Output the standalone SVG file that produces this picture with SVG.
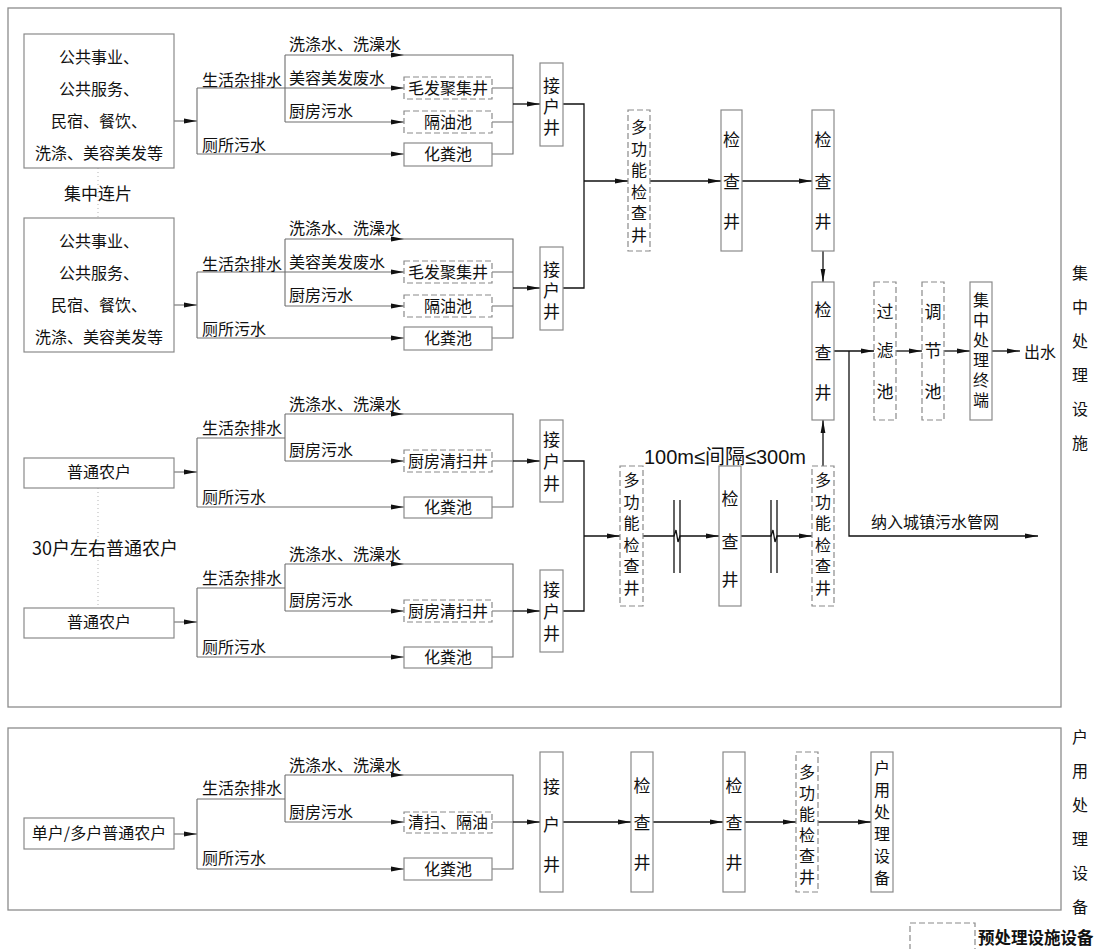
<svg xmlns="http://www.w3.org/2000/svg" width="1096" height="949" viewBox="0 0 1096 949">
<defs>
<marker id="ah" markerWidth="14" markerHeight="6" refX="13" refY="3" orient="auto" markerUnits="userSpaceOnUse"><path d="M0,0.6 L13,3 L0,5.4 z" fill="#111"/></marker>
<style>
.frame{fill:none;stroke:#8c8c8c;stroke-width:1.3}
.box{fill:#fff;stroke:#8a8a8a;stroke-width:1.2}
.dbox{fill:#fff;stroke:#8a8a8a;stroke-width:1.2;stroke-dasharray:6 3}
.ln{fill:none;stroke:#6e6e6e;stroke-width:1.1}
.fl{fill:none;stroke:#111;stroke-width:1.3}
.dot{fill:none;stroke:#b5b5b5;stroke-width:1;stroke-dasharray:1 3}
.t{font-family:"Noto Sans CJK SC","Noto Sans CJK TC",sans-serif;font-size:16px;fill:#111}
.v{font-size:17px}
.c{text-anchor:middle}
.vt{writing-mode:vertical-rl;text-anchor:start}
.lat{font-family:"Liberation Sans","Noto Sans CJK SC",sans-serif;font-size:20px;fill:#111}
</style>
</defs>
<rect class="frame" x="8" y="8" width="1053" height="699"/>
<rect class="frame" x="8" y="728" width="1053" height="182"/>
<g id="connectors">
<path class="dot" d="M98 168 V218 M98 488 V608"/>
<path class="ln" d="M174 121 H197" marker-end="url(#ah)"/>
<path class="ln" d="M197 88 V154 M285 55 V122"/>
<path class="ln" d="M197 88 H404" marker-end="url(#ah)"/>
<path class="ln" d="M285 55 H404" marker-end="url(#ah)"/>
<path class="ln" d="M285 122 H404" marker-end="url(#ah)"/>
<path class="ln" d="M197 154 H404" marker-end="url(#ah)"/>
<path class="ln" d="M404 55 H513 V154 H492 M492 88 H513 M492 122 H513"/>
<path class="fl" d="M513 104 H540" marker-end="url(#ah)"/>
<path class="ln" d="M174 305 H197" marker-end="url(#ah)"/>
<path class="ln" d="M197 272 V338 M285 239 V306"/>
<path class="ln" d="M197 272 H404" marker-end="url(#ah)"/>
<path class="ln" d="M285 239 H404" marker-end="url(#ah)"/>
<path class="ln" d="M285 306 H404" marker-end="url(#ah)"/>
<path class="ln" d="M197 338 H404" marker-end="url(#ah)"/>
<path class="ln" d="M404 239 H513 V338 H492 M492 272 H513 M492 306 H513"/>
<path class="fl" d="M513 288 H540" marker-end="url(#ah)"/>
<path class="fl" d="M563 104 H584 V288 H563"/>
<path class="fl" d="M584 181 H628" marker-end="url(#ah)"/>
<path class="fl" d="M650 181 H721" marker-end="url(#ah)"/>
<path class="fl" d="M742 181 H812" marker-end="url(#ah)"/>
<path class="fl" d="M823 251 V282" marker-end="url(#ah)"/>
<path class="fl" d="M834 351 H874" marker-end="url(#ah)"/>
<path class="fl" d="M849 351 V536 H1038" marker-end="url(#ah)"/>
<path class="fl" d="M896 351 H922" marker-end="url(#ah)"/>
<path class="fl" d="M944 351 H970" marker-end="url(#ah)"/>
<path class="fl" d="M992 351 H1020" marker-end="url(#ah)"/>
<path class="ln" d="M174 472 H197" marker-end="url(#ah)"/>
<path class="ln" d="M197 438 V507 M197 438 H285 M285 414 V461"/>
<path class="ln" d="M285 414 H404" marker-end="url(#ah)"/>
<path class="ln" d="M285 461 H404" marker-end="url(#ah)"/>
<path class="ln" d="M197 507 H404" marker-end="url(#ah)"/>
<path class="ln" d="M404 414 H513 V507 H492 M492 461 H513"/>
<path class="fl" d="M513 461 H540" marker-end="url(#ah)"/>
<path class="ln" d="M174 622 H197" marker-end="url(#ah)"/>
<path class="ln" d="M197 588 V657 M197 588 H285 M285 564 V611"/>
<path class="ln" d="M285 564 H404" marker-end="url(#ah)"/>
<path class="ln" d="M285 611 H404" marker-end="url(#ah)"/>
<path class="ln" d="M197 657 H404" marker-end="url(#ah)"/>
<path class="ln" d="M404 564 H513 V657 H492 M492 611 H513"/>
<path class="fl" d="M513 611 H540" marker-end="url(#ah)"/>
<path class="fl" d="M563 461 H584 V611 H563"/>
<path class="fl" d="M584 536 H620" marker-end="url(#ah)"/>
<path class="fl" d="M643 536 H674 L676 530 L678 542 L680 536 H719" marker-end="url(#ah)"/>
<path class="fl" d="M741 536 H771 L773 530 L775 542 L777 536 H812" marker-end="url(#ah)"/>
<path class="fl" d="M674 500 V573 M680 500 V573 M771 500 V573 M777 500 V573"/>
<path class="fl" d="M823 466 V420" marker-end="url(#ah)"/>
<path class="ln" d="M174 834 H197" marker-end="url(#ah)"/>
<path class="ln" d="M197 799 V869 M197 799 H285 M285 775 V822"/>
<path class="ln" d="M285 775 H404" marker-end="url(#ah)"/>
<path class="ln" d="M285 822 H404" marker-end="url(#ah)"/>
<path class="ln" d="M197 869 H404" marker-end="url(#ah)"/>
<path class="ln" d="M404 775 H513 V869 H492 M492 822 H513"/>
<path class="fl" d="M513 822 H540" marker-end="url(#ah)"/>
<path class="fl" d="M563 822 H631" marker-end="url(#ah)"/>
<path class="fl" d="M653 822 H723" marker-end="url(#ah)"/>
<path class="fl" d="M745 822 H796" marker-end="url(#ah)"/>
<path class="fl" d="M818 822 H871" marker-end="url(#ah)"/>
</g>
<g id="labels" class="t">
<text x="202" y="86">生活杂排水</text>
<text x="289" y="50">洗涤水、洗澡水</text>
<text x="289" y="84">美容美发废水</text>
<text x="289" y="117">厨房污水</text>
<text x="202" y="151">厕所污水</text>
<text x="202" y="270">生活杂排水</text>
<text x="289" y="234">洗涤水、洗澡水</text>
<text x="289" y="268">美容美发废水</text>
<text x="289" y="301">厨房污水</text>
<text x="202" y="335">厕所污水</text>
<text x="202" y="434">生活杂排水</text>
<text x="289" y="410">洗涤水、洗澡水</text>
<text x="289" y="456">厨房污水</text>
<text x="202" y="503">厕所污水</text>
<text x="202" y="584">生活杂排水</text>
<text x="289" y="560">洗涤水、洗澡水</text>
<text x="289" y="606">厨房污水</text>
<text x="202" y="653">厕所污水</text>
<text x="202" y="794">生活杂排水</text>
<text x="289" y="771">洗涤水、洗澡水</text>
<text x="289" y="818">厨房污水</text>
<text x="202" y="864">厕所污水</text>
<text class="c" x="98" y="200" style="font-size:17px">集中连片</text>
<text x="32" y="555" style="font-size:18px">30户左右普通农户</text>
<text class="lat" x="644" y="464">100m≤间隔≤300m</text>
<text x="871" y="528">纳入城镇污水管网</text>
<text x="1024" y="358">出水</text>
<text class="c" x="1080"><tspan x="1080" y="279">集</tspan><tspan x="1080" y="313">中</tspan><tspan x="1080" y="347">处</tspan><tspan x="1080" y="381">理</tspan><tspan x="1080" y="415">设</tspan><tspan x="1080" y="449">施</tspan></text>
<text class="c" x="1080"><tspan x="1080" y="743">户</tspan><tspan x="1080" y="777">用</tspan><tspan x="1080" y="811">处</tspan><tspan x="1080" y="845">理</tspan><tspan x="1080" y="879">设</tspan><tspan x="1080" y="913">备</tspan></text>
</g>
<g id="pub1"><rect class="box" x="24" y="34" width="150" height="134"/><text class="t c" x="99"><tspan x="99" y="63">公共事业、</tspan><tspan x="99" y="95">公共服务、</tspan><tspan x="99" y="127">民宿、餐饮、</tspan><tspan x="99" y="159">洗涤、美容美发等</tspan></text></g>
<g id="hair1"><rect class="dbox" x="404" y="77" width="88" height="22"/><text class="t c" x="448" y="94">毛发聚集井</text></g>
<g id="oil1"><rect class="dbox" x="404" y="111" width="88" height="22"/><text class="t c" x="448" y="128">隔油池</text></g>
<g id="septic1"><rect class="box" x="404" y="143" width="88" height="23"/><text class="t c" x="448" y="160">化粪池</text></g>
<g id="jh1"><rect class="box" x="540" y="63" width="23" height="83"/><text class="t v vt" x="551.5" y="77.5" style="letter-spacing:4px">接户井</text></g>
<g id="pub2"><rect class="box" x="24" y="218" width="150" height="134"/><text class="t c" x="99"><tspan x="99" y="247">公共事业、</tspan><tspan x="99" y="279">公共服务、</tspan><tspan x="99" y="311">民宿、餐饮、</tspan><tspan x="99" y="343">洗涤、美容美发等</tspan></text></g>
<g id="hair2"><rect class="dbox" x="404" y="261" width="88" height="22"/><text class="t c" x="448" y="278">毛发聚集井</text></g>
<g id="oil2"><rect class="dbox" x="404" y="295" width="88" height="22"/><text class="t c" x="448" y="312">隔油池</text></g>
<g id="septic2"><rect class="box" x="404" y="327" width="88" height="23"/><text class="t c" x="448" y="344">化粪池</text></g>
<g id="jh2"><rect class="box" x="540" y="247" width="23" height="83"/><text class="t v vt" x="551.5" y="261.5" style="letter-spacing:4px">接户井</text></g>
<g id="mf1"><rect class="dbox" x="628" y="110" width="22" height="141"/><text class="t vt" x="639" y="119" style="letter-spacing:5.6px">多功能检查井</text></g>
<g id="ck1"><rect class="box" x="721" y="110" width="21" height="141"/><text class="t v c" x="731.5"><tspan x="731.5" y="146">检</tspan><tspan x="731.5" y="188">查</tspan><tspan x="731.5" y="228">井</tspan></text></g>
<g id="ck2"><rect class="box" x="812" y="110" width="22" height="141"/><text class="t v c" x="823"><tspan x="823" y="146">检</tspan><tspan x="823" y="188">查</tspan><tspan x="823" y="228">井</tspan></text></g>
<g id="ck3"><rect class="box" x="812" y="282" width="22" height="138"/><text class="t v c" x="823"><tspan x="823" y="316">检</tspan><tspan x="823" y="359">查</tspan><tspan x="823" y="399">井</tspan></text></g>
<g id="filter"><rect class="dbox" x="874" y="282" width="22" height="138"/><text class="t v c" x="885"><tspan x="885" y="318">过</tspan><tspan x="885" y="357">滤</tspan><tspan x="885" y="398">池</tspan></text></g>
<g id="regulate"><rect class="dbox" x="922" y="282" width="22" height="138"/><text class="t v c" x="933"><tspan x="933" y="318">调</tspan><tspan x="933" y="357">节</tspan><tspan x="933" y="398">池</tspan></text></g>
<g id="terminal"><rect class="box" x="970" y="282" width="22" height="138"/><text class="t vt" x="981" y="292" style="letter-spacing:4px">集中处理终端</text></g>
<g id="farm1"><rect class="box" x="24" y="458" width="150" height="30"/><text class="t c" x="99" y="478">普通农户</text></g>
<g id="kc1"><rect class="dbox" x="404" y="450" width="88" height="22"/><text class="t c" x="448" y="467">厨房清扫井</text></g>
<g id="septic3"><rect class="box" x="404" y="497" width="88" height="21"/><text class="t c" x="448" y="513">化粪池</text></g>
<g id="jh3"><rect class="box" x="540" y="420" width="23" height="82"/><text class="t v vt" x="551.5" y="431.5" style="letter-spacing:5px">接户井</text></g>
<g id="farm2"><rect class="box" x="24" y="608" width="150" height="30"/><text class="t c" x="99" y="628">普通农户</text></g>
<g id="kc2"><rect class="dbox" x="404" y="600" width="88" height="22"/><text class="t c" x="448" y="617">厨房清扫井</text></g>
<g id="septic4"><rect class="box" x="404" y="647" width="88" height="21"/><text class="t c" x="448" y="663">化粪池</text></g>
<g id="jh4"><rect class="box" x="540" y="570" width="23" height="82"/><text class="t v vt" x="551.5" y="581.5" style="letter-spacing:5px">接户井</text></g>
<g id="mf4"><rect class="dbox" x="620" y="466" width="23" height="140"/><text class="t vt" x="631.5" y="472" style="letter-spacing:5.6px">多功能检查井</text></g>
<g id="ck4"><rect class="box" x="719" y="466" width="22" height="140"/><text class="t v c" x="730"><tspan x="730" y="505">检</tspan><tspan x="730" y="548">查</tspan><tspan x="730" y="586">井</tspan></text></g>
<g id="mf5"><rect class="dbox" x="812" y="466" width="22" height="140"/><text class="t vt" x="823" y="472" style="letter-spacing:5.6px">多功能检查井</text></g>
<g id="single"><rect class="box" x="24" y="818" width="150" height="31"/><text class="t c" x="99" y="839">单户/多户普通农户</text></g>
<g id="cleanoil"><rect class="dbox" x="404" y="812" width="88" height="21"/><text class="t c" x="448" y="828">清扫、隔油</text></g>
<g id="septic5"><rect class="box" x="404" y="858" width="88" height="22"/><text class="t c" x="448" y="875">化粪池</text></g>
<g id="jh5"><rect class="box" x="540" y="752" width="23" height="140"/><text class="t v c" x="551.5"><tspan x="551.5" y="793">接</tspan><tspan x="551.5" y="831">户</tspan><tspan x="551.5" y="871">井</tspan></text></g>
<g id="ck5"><rect class="box" x="631" y="752" width="22" height="140"/><text class="t v c" x="642"><tspan x="642" y="792">检</tspan><tspan x="642" y="829">查</tspan><tspan x="642" y="869">井</tspan></text></g>
<g id="ck6"><rect class="box" x="723" y="752" width="22" height="140"/><text class="t v c" x="734"><tspan x="734" y="792">检</tspan><tspan x="734" y="829">查</tspan><tspan x="734" y="869">井</tspan></text></g>
<g id="mf6"><rect class="dbox" x="796" y="752" width="22" height="140"/><text class="t vt" x="807" y="764" style="letter-spacing:5px">多功能检查井</text></g>
<g id="household"><rect class="box" x="871" y="752" width="22" height="140"/><text class="t vt" x="882" y="760" style="letter-spacing:6px">户用处理设备</text></g>
<g id="legend"><rect class="dbox" x="910" y="923" width="65" height="34"/><text class="t" x="978" y="944" style="font-size:16.5px;font-weight:bold">预处理设施设备</text></g>
</svg>
